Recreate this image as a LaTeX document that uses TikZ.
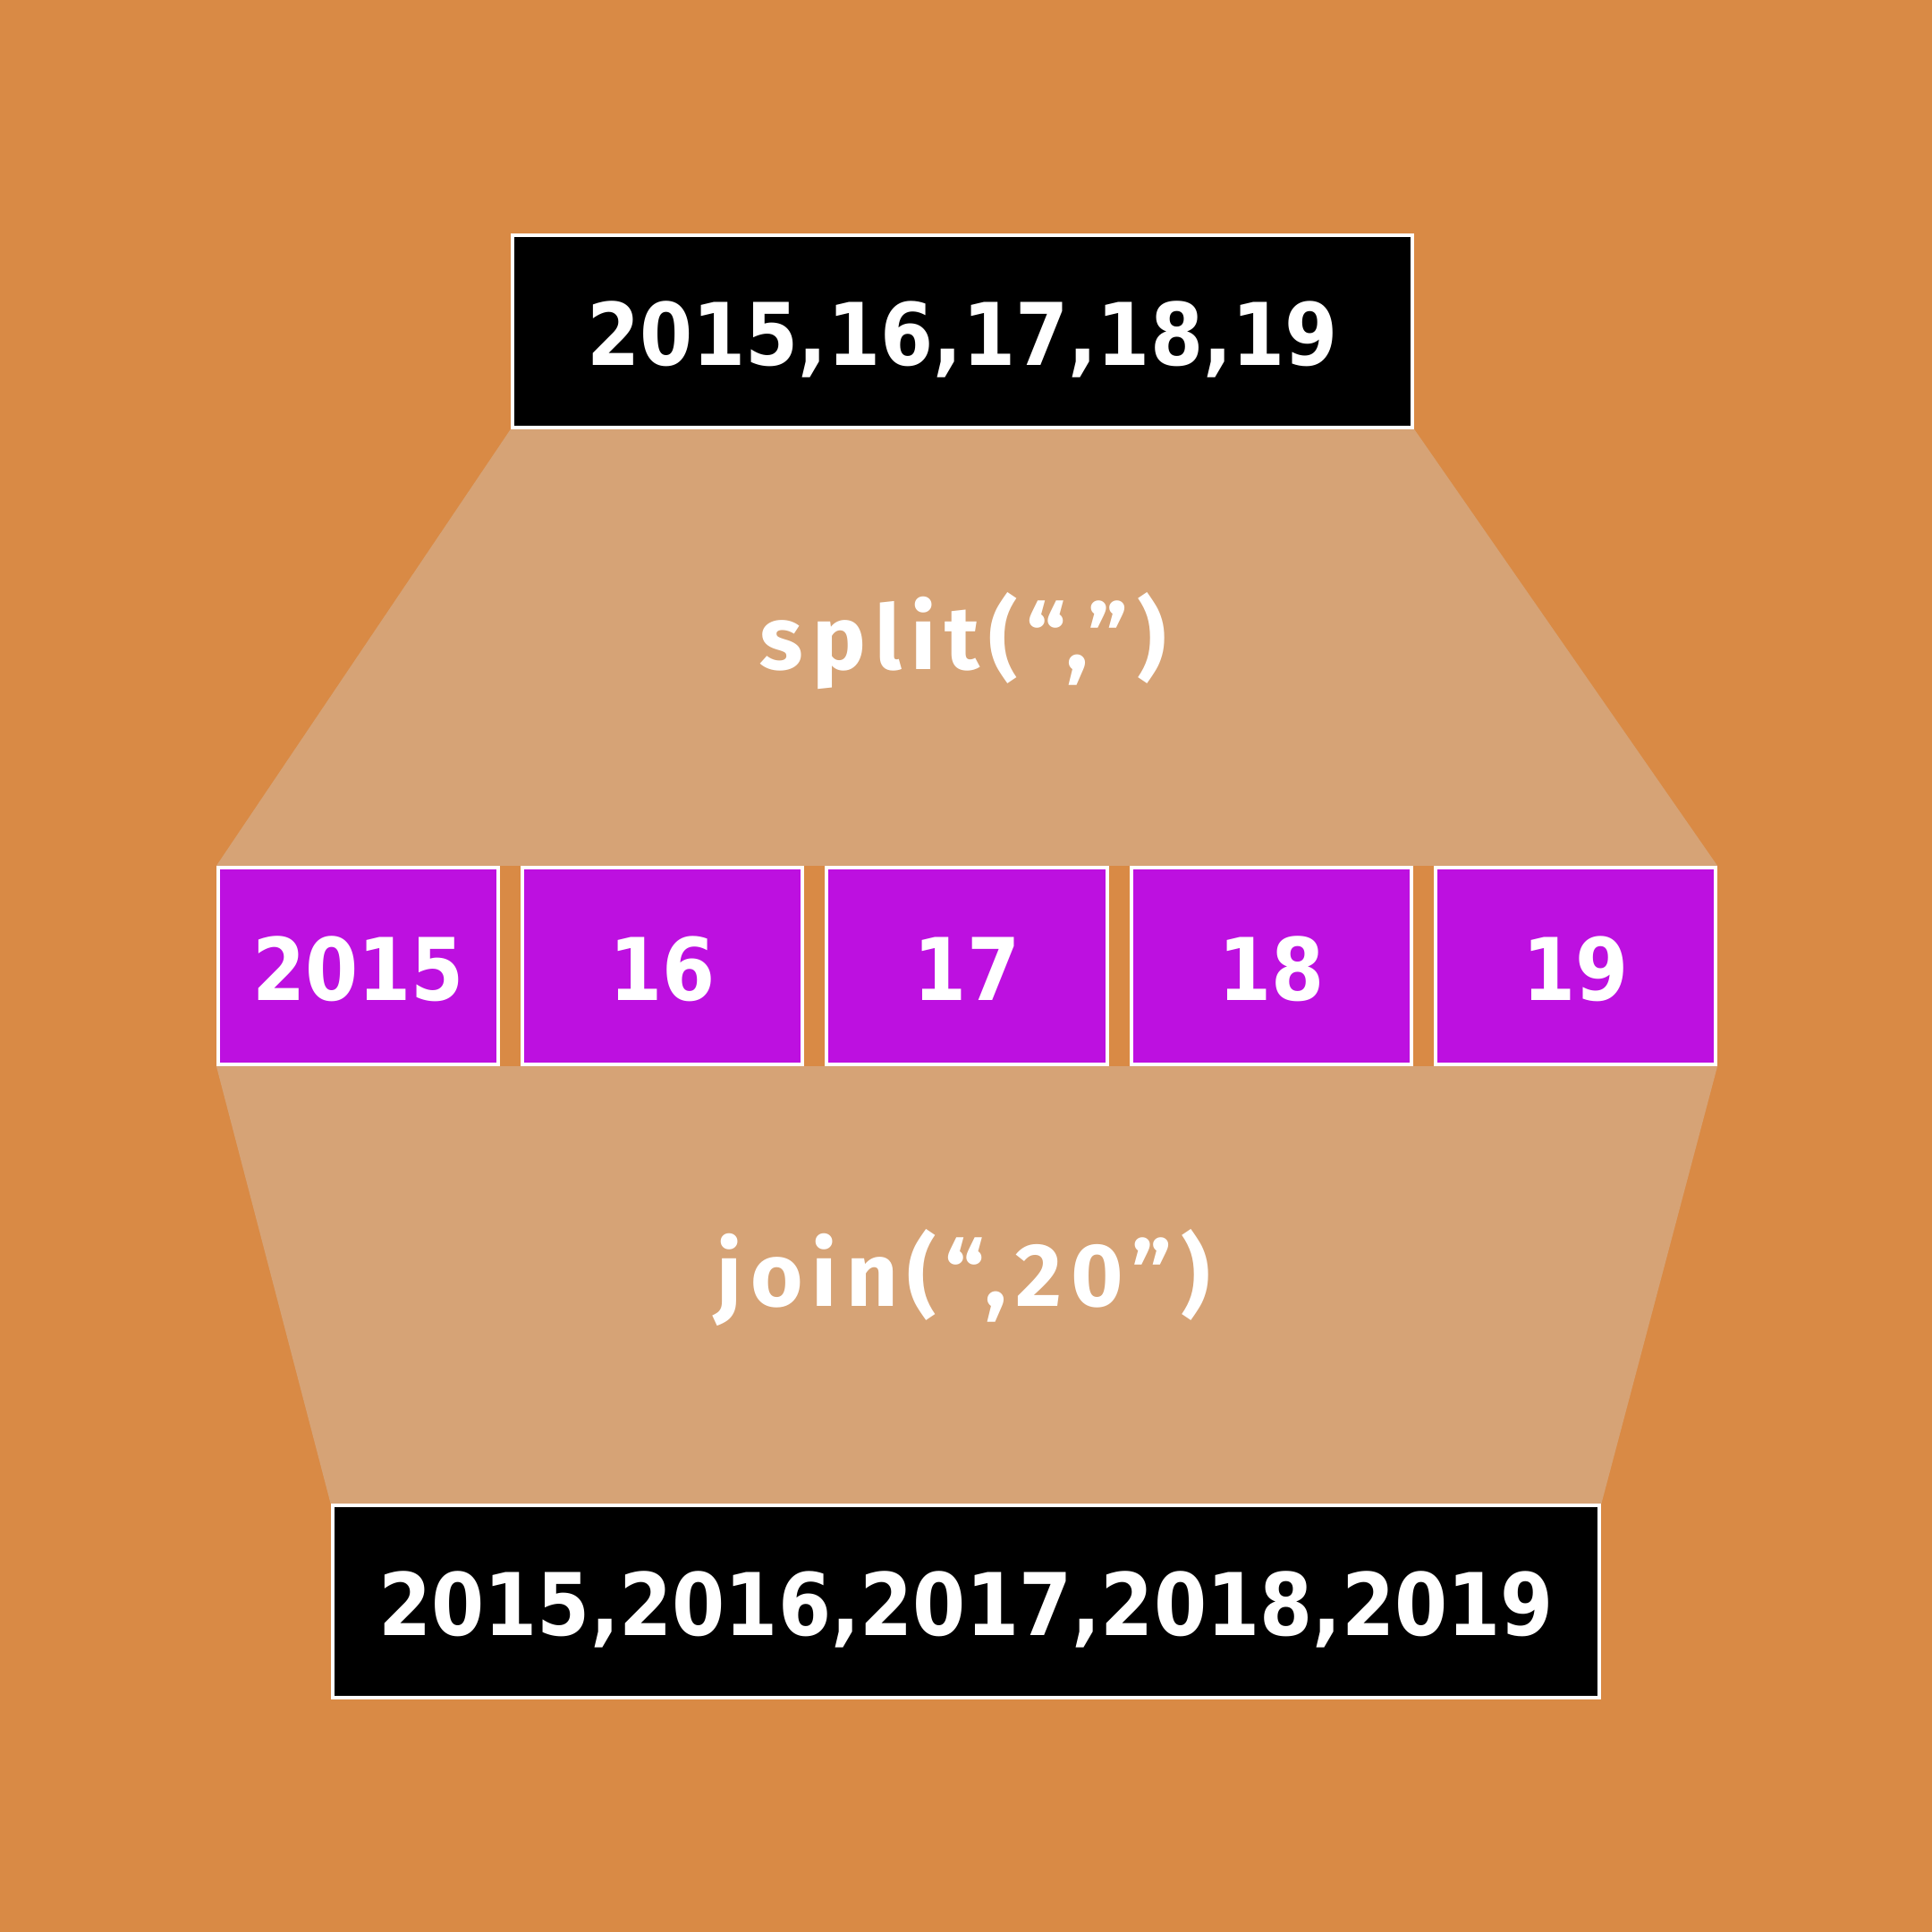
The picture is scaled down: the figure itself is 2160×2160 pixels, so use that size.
\documentclass[tikz,border=0pt]{standalone}
\usepackage{fontspec}
\usepackage{graphicx}
\usetikzlibrary{backgrounds}
\newfontfamily\numfont{DejaVu Sans}
\newfontfamily\labfont{Fira Sans}[LetterSpace=10]
\definecolor{bgorange}{HTML}{D98A45}
\definecolor{trap}{HTML}{D6A376}
\definecolor{purp}{HTML}{BD10E0}
\tikzset{
  numtext/.style={font=\numfont\bfseries\fontsize{27.5pt}{33pt}\selectfont, text=white, text height=0.70cm, text depth=0cm},
  blackbox/.style={numtext, rectangle, fill=black, draw=white, line width=0.04cm, minimum height=2.15cm},
  purpbox/.style={numtext, rectangle, fill=purp, draw=white, line width=0.04cm, minimum width=3.13cm, minimum height=2.2cm},
  lab/.style={font=\labfont\bfseries\fontsize{28.5pt}{34pt}\selectfont, text=white, anchor=base, inner sep=0pt},
  trapfill/.style={fill=trap}
}
\newcommand{\sq}[1]{\raisebox{-0.03cm}{\scalebox{0.88}[1]{#1}}}
\begin{document}
\begin{tikzpicture}[x=0.01cm, y=-0.01cm]
\useasboundingbox (0,0) rectangle (2160,2160);
\node[blackbox, minimum width=10.06cm] (top) at (1076,370.5) {\sq{2015,16,17,18,19}};
\node[purpbox] (b1) at (400.5,1080) {\sq{2015}};
\node[purpbox] (b2) at (740.75,1080) {\sq{16}};
\node[purpbox] (b3) at (1081,1080) {\sq{17}};
\node[purpbox] (b4) at (1421.25,1080) {\sq{18}};
\node[purpbox] (b5) at (1761.5,1080) {\sq{19}};
\node[blackbox, minimum width=14.16cm] (bot) at (1080,1790.5) {\sq{2015,2016,2017,2018,2019}};
\node[lab] (split) at (1077,748) {split(“,”)};
\node[lab] (join) at (1077,1460) {join(“,20”)};
\begin{pgfonlayer}{background}
\fill[bgorange] (0,0) rectangle (2160,2160);
\fill[trapfill] (top.south west) -- (top.south east) -- (b5.north east) -- (b1.north west) -- cycle;
\fill[trapfill] (b1.south west) -- (b5.south east) -- (bot.north east) -- (bot.north west) -- cycle;
\end{pgfonlayer}
\end{tikzpicture}
\end{document}
